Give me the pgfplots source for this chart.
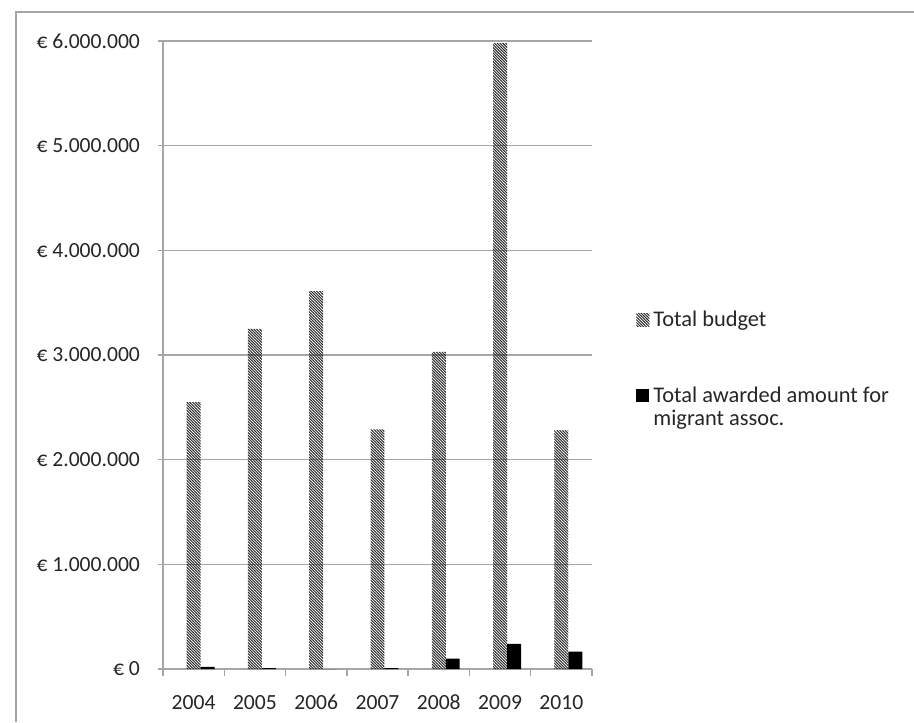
\documentclass[border=0pt]{standalone}
\usepackage{fontspec}
\setmainfont{Carlito}
\usepackage{pgfplots}
\usepackage{pgfplotstable}
\pgfplotsset{compat=1.18}
\usetikzlibrary{patterns}
\definecolor{gridgray}{HTML}{A6A6A6}
\definecolor{txt}{HTML}{262626}
\pgfdeclarepatternformonly{densenwl}{\pgfqpoint{-0.5pt}{-0.5pt}}{\pgfqpoint{2pt}{2pt}}{\pgfqpoint{1.4pt}{1.4pt}}{%
  \pgfsetlinewidth{0.45pt}%
  \pgfpathmoveto{\pgfqpoint{-0.1pt}{1.5pt}}%
  \pgfpathlineto{\pgfqpoint{1.5pt}{-0.1pt}}%
  \pgfusepath{stroke}%
}
\pgfplotsset{sqlegend/.style={legend image code/.code={\path[##1] (0pt,0pt) rectangle (6.5pt,6.5pt);}}}

\pgfplotstableread{
x budget awarded
0 2550000 20000
1 3250000 8000
2 3610000 0
3 2290000 8000
4 3030000 100000
5 5980000 240000
6 2280000 165000
}\data

\begin{document}
\begin{tikzpicture}
\path[use as bounding box] (0,0) rectangle (457pt,361pt);
\draw[gridgray, line width=0.75pt] (8pt,0) -- (8pt,355pt) -- (457pt,355pt);
\begin{axis}[
  at={(81.5pt,26.5pt)}, anchor=south west,
  scale only axis, width=214.5pt, height=314pt,
  ybar, bar width=0.228,
  xmin=-0.5, xmax=6.5, ymin=0, ymax=6000000,
  axis x line*=bottom, axis y line*=left,
  axis line style={-, draw=gridgray, line width=0.75pt},
  xtick={0,1,2,3,4,5,6},
  xticklabels={2004,2005,2006,2007,2008,2009,2010},
  minor xtick={-0.5,0.5,1.5,2.5,3.5,4.5,5.5,6.5},
  ytick={0,1000000,2000000,3000000,4000000,5000000,6000000},
  yticklabels={€ 0,€ 1.000.000,€ 2.000.000,€ 3.000.000,€ 4.000.000,€ 5.000.000,€ 6.000.000},
  scaled y ticks=false,
  tick align=outside,
  major tick length=2.5pt, minor tick length=3.5pt,
  major x tick style={draw=none},
  minor x tick style={draw=gridgray, line width=0.75pt},
  major y tick style={draw=gridgray, line width=0.75pt},
  ymajorgrids,
  major grid style={draw=gridgray, line width=0.75pt},
  tick label style={font=\fontsize{10.8}{13}\selectfont, text=txt},
  xticklabel style={yshift=-7pt},
  yticklabel style={xshift=-5.5pt},
  legend style={at={(1.1026,0.5735)}, anchor=north west, draw=none, fill=none,
    inner sep=0pt, row sep=25.75pt, column sep=1pt, font=\fontsize{11.2}{11.5}\selectfont, text=txt,
    cells={anchor=base west}, nodes={inner sep=1pt, text depth={}}},
]
\addplot[pattern=densenwl, pattern color=black!85, draw=none, bar shift=0, sqlegend]
  table[x=x,y=budget]{\data};
\addlegendentry{Total budget}
\addplot[fill=black, draw=none, bar shift=0.228, sqlegend]
  table[x=x,y=awarded]{\data};
\addlegendentry{\begin{tabular}[t]{@{}l@{}}Total awarded amount for\\migrant assoc.\end{tabular}}
\end{axis}
\end{tikzpicture}
\end{document}
